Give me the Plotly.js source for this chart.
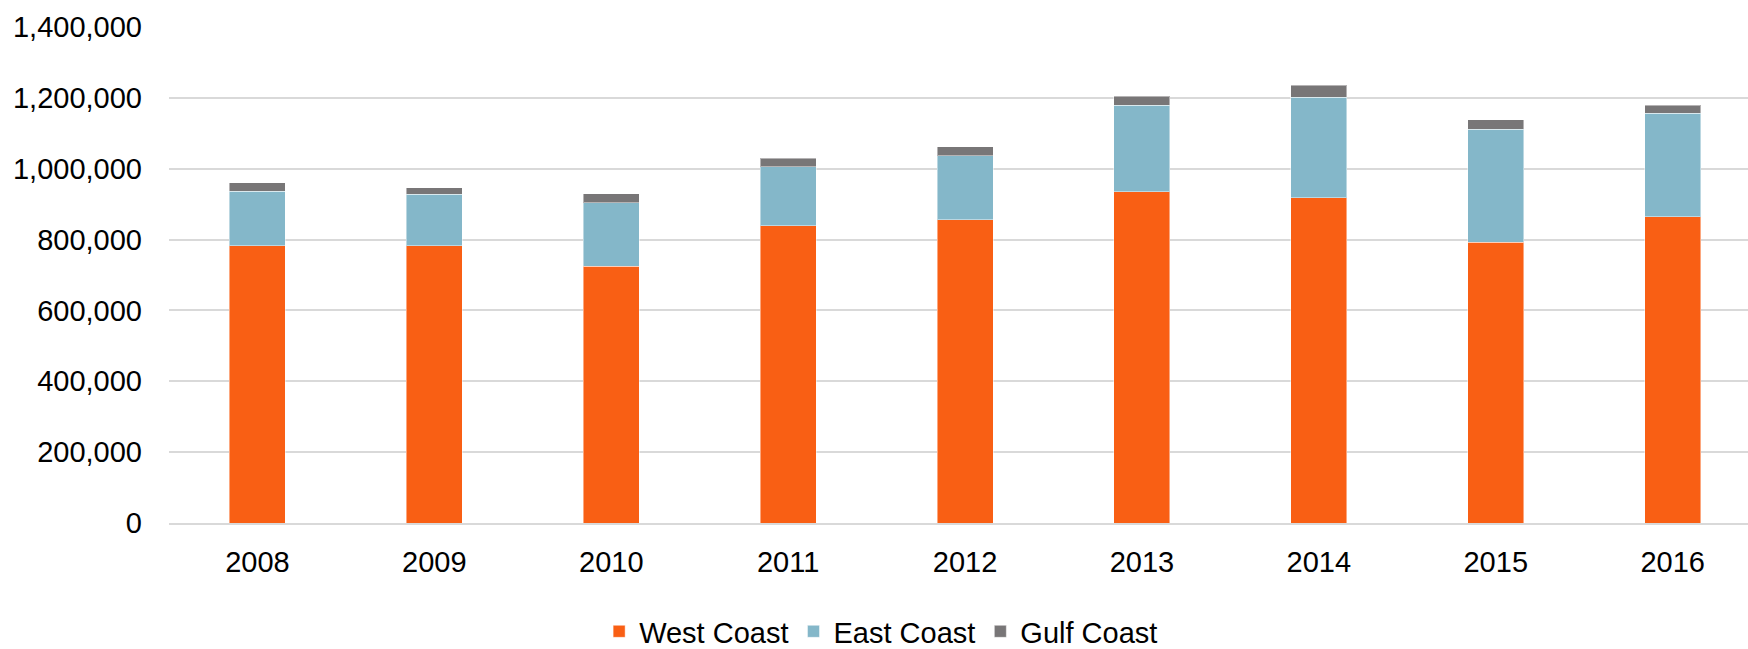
<!DOCTYPE html>
<html>
<head>
<meta charset="utf-8">
<script src="https://cdn.plot.ly/plotly-3.0.1.min.js"></script>
<style>html,body{margin:0;padding:0;background:#fff;}#chart{width:1748px;height:649px;}</style>
</head>
<body>
<div id="chart"></div>
<script>
const years = ["2008","2009","2010","2011","2012","2013","2014","2015","2016"];
const westCoast = [782000, 782000, 725000, 839000, 856000, 935000, 918000, 793000, 864000];
const eastCoast = [155000, 146000, 179000, 167000, 181000, 244000, 284000, 318000, 292000];
const gulfCoast = [24000, 18000, 26000, 23000, 25000, 25000, 34000, 27000, 23000];
const yTicks = [0, 200000, 400000, 600000, 800000, 1000000, 1200000, 1400000];

const lineStyle = {color: 'rgba(255,255,255,0.45)', width: 1};
const traces = [
  {type: 'bar', name: 'West Coast', x: years, y: westCoast, marker: {color: '#F95F14', line: lineStyle}},
  {type: 'bar', name: 'East Coast', x: years, y: eastCoast, marker: {color: '#84B7C9', line: lineStyle}},
  {type: 'bar', name: 'Gulf Coast', x: years, y: gulfCoast, marker: {color: '#787677', line: lineStyle}}
];

const layout = {
  width: 1748, height: 649,
  barmode: 'stack',
  bargap: 0.683,
  paper_bgcolor: '#ffffff', plot_bgcolor: '#ffffff',
  margin: {l: 169, r: 0, t: 27, b: 126, pad: 0, autoexpand: false},
  font: {family: 'Liberation Sans, Arial, sans-serif', color: '#000000', size: 29},
  showlegend: true,
  xaxis: {
    type: 'category',
    range: [-0.5, 8.426],
    showgrid: false,
    showline: true, linecolor: '#d9d9d9', linewidth: 2,
    ticks: '', ticklabelstandoff: 12,
    tickfont: {size: 29, color: '#000'},
    automargin: false,
    fixedrange: true
  },
  yaxis: {
    range: [0, 1400000],
    tickvals: yTicks,
    tickformat: ',d',
    showgrid: true, gridcolor: '#d9d9d9', gridwidth: 2,
    zeroline: false, showline: false,
    ticks: '', ticklabelstandoff: 26,
    tickfont: {size: 29, color: '#000'},
    automargin: false,
    fixedrange: true
  },
  legend: {
    orientation: 'h',
    x: 0.451, xanchor: 'center',
    yref: 'container',
    y: 0.027, yanchor: 'middle',
    font: {size: 29, color: '#000'},
    traceorder: 'normal',
    itemclick: false
  }
};

Plotly.newPlot('chart', traces, layout, {displayModeBar: false, staticPlot: true});
</script>
</body>
</html>
